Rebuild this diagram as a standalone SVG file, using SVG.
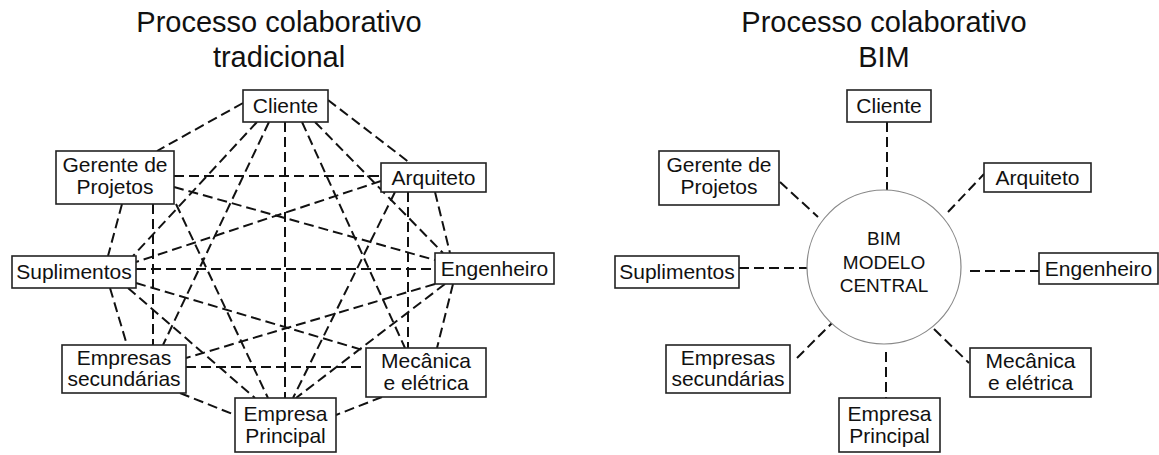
<svg xmlns="http://www.w3.org/2000/svg" width="1159" height="455" viewBox="0 0 1159 455">
<style>
.bg{fill:#fff}
.box{fill:#fff;stroke:#222;stroke-width:1.6}
.lbl{font-family:"Liberation Sans",Arial,sans-serif;font-size:21px;fill:#111;text-anchor:middle}
.ttl{font-family:"Liberation Sans",Arial,sans-serif;font-size:29px;fill:#111;text-anchor:middle}
.core{font-family:"Liberation Sans",Arial,sans-serif;font-size:19px;fill:#111;text-anchor:middle}
.dash{stroke:#111;stroke-width:2;stroke-dasharray:10,5;fill:none}
.circ{fill:#fff;stroke:#888;stroke-width:1.2}
</style>
<rect class="bg" x="0" y="0" width="1159" height="455"/>
<g id="titles">
<text class="ttl" x="279" y="32">Processo colaborativo</text>
<text class="ttl" x="279" y="67">tradicional</text>
<text class="ttl" x="884" y="32">Processo colaborativo</text>
<text class="ttl" x="884" y="67">BIM</text>
</g>
<g id="connectors-left">
<line class="dash" x1="243" y1="103" x2="157" y2="151"/>
<line class="dash" x1="328" y1="100" x2="410" y2="163"/>
<line class="dash" x1="257" y1="122" x2="133" y2="256"/>
<line class="dash" x1="269" y1="122" x2="163" y2="345"/>
<line class="dash" x1="285" y1="122" x2="285" y2="398"/>
<line class="dash" x1="302" y1="122" x2="405" y2="348"/>
<line class="dash" x1="315" y1="122" x2="443" y2="253"/>
<line class="dash" x1="174" y1="176" x2="381" y2="176"/>
<line class="dash" x1="174" y1="187" x2="435" y2="260"/>
<line class="dash" x1="122" y1="204" x2="108" y2="256"/>
<line class="dash" x1="153" y1="204" x2="153" y2="345"/>
<line class="dash" x1="176" y1="204" x2="268" y2="398"/>
<line class="dash" x1="381" y1="181" x2="136" y2="262"/>
<line class="dash" x1="435" y1="192" x2="450" y2="253"/>
<line class="dash" x1="408" y1="192" x2="408" y2="348"/>
<line class="dash" x1="395" y1="192" x2="293" y2="398"/>
<line class="dash" x1="136" y1="269" x2="435" y2="269"/>
<line class="dash" x1="110" y1="288" x2="127" y2="345"/>
<line class="dash" x1="136" y1="283" x2="366" y2="351"/>
<line class="dash" x1="128" y1="288" x2="255" y2="398"/>
<line class="dash" x1="435" y1="284" x2="186" y2="358"/>
<line class="dash" x1="445" y1="284" x2="296" y2="398"/>
<line class="dash" x1="453" y1="284" x2="437" y2="348"/>
<line class="dash" x1="186" y1="367" x2="366" y2="367"/>
<line class="dash" x1="180" y1="393" x2="235" y2="415"/>
<line class="dash" x1="382" y1="397" x2="336" y2="415"/>
</g>
<g id="connectors-right">
<line class="dash" x1="887" y1="122" x2="887" y2="190"/>
<line class="dash" x1="780" y1="182" x2="818" y2="217"/>
<line class="dash" x1="739" y1="268" x2="807" y2="268"/>
<line class="dash" x1="948" y1="212" x2="984" y2="174"/>
<line class="dash" x1="970" y1="271" x2="1039" y2="271"/>
<line class="dash" x1="797" y1="358" x2="832" y2="323"/>
<line class="dash" x1="934" y1="329" x2="969" y2="363"/>
<line class="dash" x1="886" y1="352" x2="886" y2="398"/>
</g>
<g id="L-cliente"><rect class="box" x="243" y="90" width="85" height="32"/><text class="lbl" x="285.5" y="113">Cliente</text></g>
<g id="L-gerente"><rect class="box" x="56" y="151" width="118" height="53"/><text class="lbl" x="115" y="172">Gerente de</text><text class="lbl" x="115" y="194">Projetos</text></g>
<g id="L-arquiteto"><rect class="box" x="381" y="163" width="105" height="29"/><text class="lbl" x="433.5" y="185">Arquiteto</text></g>
<g id="L-engenheiro"><rect class="box" x="435" y="253" width="119" height="31"/><text class="lbl" x="494.5" y="276">Engenheiro</text></g>
<g id="L-suplimentos"><rect class="box" x="12" y="256" width="124" height="32"/><text class="lbl" x="74" y="279">Suplimentos</text></g>
<g id="L-empresas"><rect class="box" x="62" y="345" width="124" height="48"/><text class="lbl" x="124" y="365">Empresas</text><text class="lbl" x="124" y="386">secundárias</text></g>
<g id="L-mecanica"><rect class="box" x="366" y="348" width="120" height="49"/><text class="lbl" x="426" y="368">Mecânica</text><text class="lbl" x="426" y="390">e elétrica</text></g>
<g id="L-principal"><rect class="box" x="235" y="398" width="101" height="54"/><text class="lbl" x="285.5" y="421">Empresa</text><text class="lbl" x="285.5" y="443">Principal</text></g>
<g id="R-bim"><circle class="circ" cx="884" cy="267" r="77"/><text class="core" x="884" y="245">BIM</text><text class="core" x="884" y="269">MODELO</text><text class="core" x="884" y="292">CENTRAL</text></g>
<g id="R-cliente"><rect class="box" x="847" y="90" width="84" height="32"/><text class="lbl" x="889" y="113">Cliente</text></g>
<g id="R-gerente"><rect class="box" x="659" y="151" width="120" height="54"/><text class="lbl" x="719" y="172">Gerente de</text><text class="lbl" x="719" y="194">Projetos</text></g>
<g id="R-arquiteto"><rect class="box" x="984" y="163" width="107" height="29"/><text class="lbl" x="1037.5" y="185">Arquiteto</text></g>
<g id="R-engenheiro"><rect class="box" x="1039" y="253" width="119" height="31"/><text class="lbl" x="1098.5" y="276">Engenheiro</text></g>
<g id="R-suplimentos"><rect class="box" x="615" y="256" width="124" height="32"/><text class="lbl" x="677" y="279">Suplimentos</text></g>
<g id="R-empresas"><rect class="box" x="666" y="345" width="124" height="48"/><text class="lbl" x="728" y="365">Empresas</text><text class="lbl" x="728" y="386">secundárias</text></g>
<g id="R-mecanica"><rect class="box" x="970" y="348" width="121" height="49"/><text class="lbl" x="1030.5" y="368">Mecânica</text><text class="lbl" x="1030.5" y="390">e elétrica</text></g>
<g id="R-principal"><rect class="box" x="839" y="398" width="101" height="54"/><text class="lbl" x="889.5" y="421">Empresa</text><text class="lbl" x="889.5" y="443">Principal</text></g>
</svg>
